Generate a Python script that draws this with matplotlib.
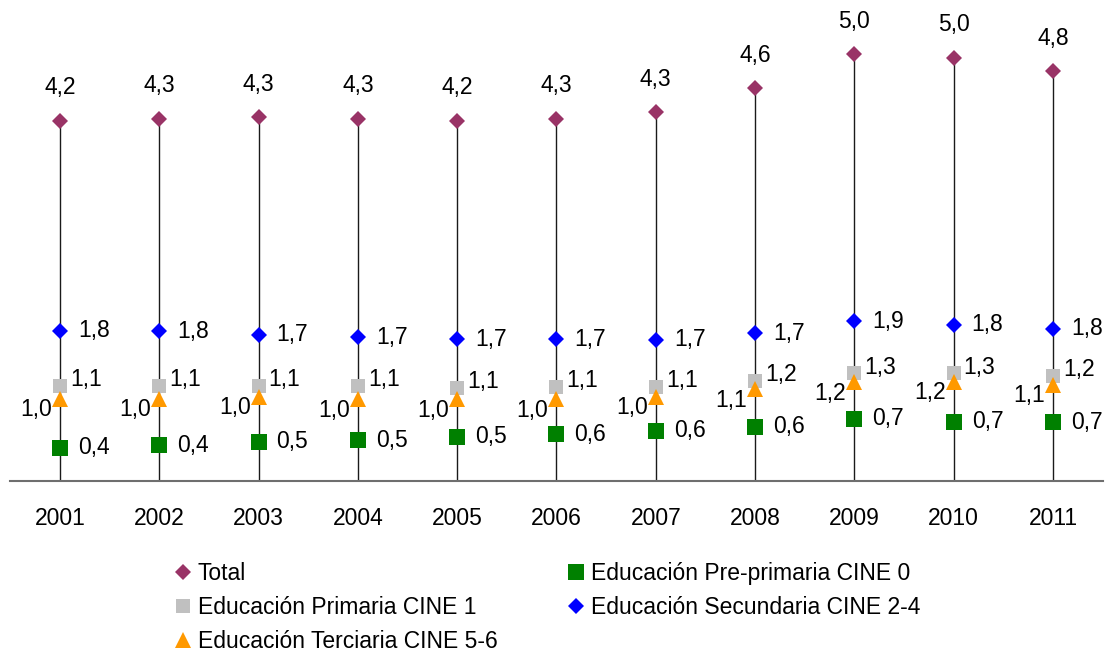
import matplotlib
matplotlib.use("Agg")
import matplotlib.pyplot as plt
from matplotlib.lines import Line2D

years = ["2001", "2002", "2003", "2004", "2005", "2006", "2007", "2008", "2009", "2010", "2011"]
total = [4.24, 4.26, 4.28, 4.26, 4.24, 4.26, 4.34, 4.62, 5.02, 4.98, 4.82]
preprimaria = [0.39, 0.42, 0.46, 0.48, 0.52, 0.55, 0.59, 0.64, 0.73, 0.70, 0.69]
primaria = [1.12, 1.12, 1.12, 1.12, 1.10, 1.11, 1.11, 1.18, 1.27, 1.27, 1.24]
secundaria = [1.77, 1.76, 1.72, 1.69, 1.67, 1.67, 1.66, 1.74, 1.88, 1.84, 1.79]
terciaria = [0.97, 0.97, 0.99, 0.96, 0.96, 0.96, 0.99, 1.08, 1.16, 1.17, 1.13]

labels = ["Total", "Educación Pre-primaria CINE 0", "Educación Primaria CINE 1",
          "Educación Secundaria CINE 2-4", "Educación Terciaria CINE 5-6"]

plt.rcParams['font.family'] = ['Liberation Sans', 'DejaVu Sans']
FS = 16.5

W, H = 1113, 655
fig = plt.figure(figsize=(W / 100, H / 100), dpi=100)
ax_left, ax_right = 10.35, 1102.6
ax_bottom_px, ax_top_px = 481, 20
ax = fig.add_axes([ax_left / W, (H - ax_bottom_px) / H,
                   (ax_right - ax_left) / W, (ax_bottom_px - ax_top_px) / H])

x = list(range(len(years)))
ax.vlines(x, 0, total, color='#1a1a1a', lw=1.0, zorder=1)

def fmt(v):
    return f"{v:.1f}".replace('.', ',')

series = [
    (total, 'D', '#993366', 8.6, (0, 33), 'center', 'center'),
    (preprimaria, 's', '#008000', 12, (18, 0), 'left', 'center'),
    (primaria, 's', '#C0C0C0', 10, (10, 6), 'left', 'center'),
    (secundaria, 'D', '#0000FF', 8.6, (18, 0), 'left', 'center'),
    (terciaria, '^', '#FF9900', 12, (-8, -11), 'right', 'center'),
]
handles = []
for (vals, mk, col, ms, off, ha, va), lab in zip(series, labels):
    ax.plot(x, vals, linestyle='none', marker=mk, color=col, markersize=ms,
            markeredgewidth=0, zorder=3)
    for xi, v in zip(x, vals):
        ax.annotate(fmt(v), (xi, v), xytext=off, textcoords='offset pixels',
                    ha=ha, va=va, fontsize=FS, color='black', zorder=4)
    handles.append(Line2D([], [], linestyle='none', marker=mk, color=col,
                          markersize=ms, markeredgewidth=0, label=lab))

ax.set_xlim(-0.5, len(years) - 0.5)
ax.set_ylim(0, (ax_bottom_px - ax_top_px) / 85.0)
ax.set_xticks(x)
ax.set_xticklabels(years, fontsize=FS)
ax.tick_params(axis='x', length=0, pad=18.5)
ax.set_yticks([])
for s in ['top', 'right', 'left']:
    ax.spines[s].set_visible(False)
ax.spines['bottom'].set_color('#6e6e6e')
ax.spines['bottom'].set_linewidth(1.5)
ax.patch.set_alpha(0)

common = dict(frameon=False, fontsize=FS, handlelength=0.6, handletextpad=0.36,
              borderpad=0, borderaxespad=0, labelspacing=0.48, loc='upper left')
leg1 = fig.legend(handles=[handles[0], handles[2], handles[4]],
                  bbox_to_anchor=(175.75 / W, (H - 562) / H), **common)
leg2 = fig.legend(handles=[handles[1], handles[3]],
                  bbox_to_anchor=(568.75 / W, (H - 562) / H), **common)

fig.savefig("out.png", dpi=100)
